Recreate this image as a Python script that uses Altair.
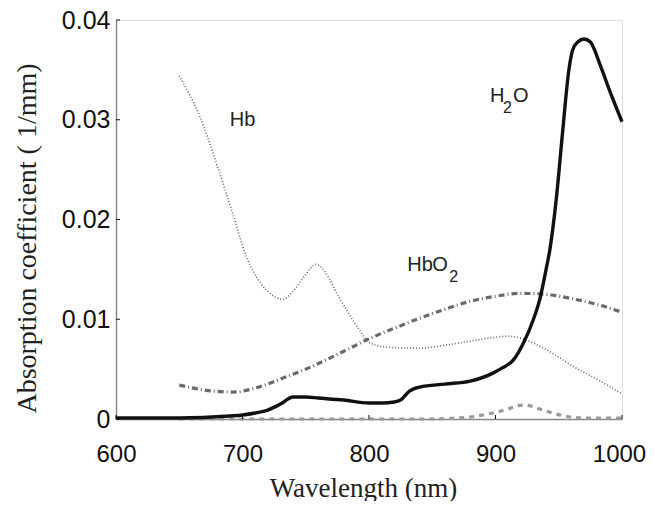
import altair as alt
import pandas as pd

# H2O (solid black)
h2o_wl = [600, 650, 690, 700, 710, 720, 730, 740, 750, 760, 780, 800, 810, 820, 825, 832, 840, 860, 880, 898, 905, 914, 922, 930, 935, 940, 943, 948, 953, 958, 961, 965, 970, 975, 983, 990, 1000]
h2o_v = [0.0001, 0.0001, 0.0003, 0.0004, 0.0006, 0.0009, 0.0015, 0.0022, 0.0022, 0.0021, 0.0019, 0.0016, 0.0016, 0.0017, 0.0019, 0.0028, 0.0032, 0.0035, 0.0038, 0.0046, 0.0051, 0.0059, 0.0076, 0.0100, 0.0120, 0.0150, 0.0170, 0.0220, 0.0287, 0.0350, 0.0370, 0.0378, 0.0381, 0.0378, 0.0354, 0.0330, 0.0298]

# Hb (dotted)
hb_wl = [650, 666, 680, 693, 703, 715, 725, 732, 740, 750, 758, 765, 775, 782, 792, 801, 815, 840, 860, 880, 900, 910, 920, 930, 945, 961, 980, 1000]
hb_v = [0.0344, 0.0304, 0.0254, 0.0203, 0.0163, 0.0135, 0.0123, 0.0120, 0.0128, 0.0145, 0.0155, 0.0148, 0.0125, 0.0110, 0.0090, 0.0076, 0.0072, 0.0071, 0.0074, 0.0078, 0.0082, 0.0083, 0.0081, 0.0076, 0.0066, 0.0053, 0.0040, 0.0025]

# HbO2 (dash-dot)
hbo2_wl = [650, 670, 693, 710, 732, 750, 769, 785, 801, 820, 840, 860, 880, 900, 919, 940, 959, 980, 1000]
hbo2_v = [0.0034, 0.0029, 0.0027, 0.0031, 0.0041, 0.0050, 0.0061, 0.0071, 0.0081, 0.0091, 0.0101, 0.0110, 0.0118, 0.0123, 0.0126, 0.0125, 0.0121, 0.0115, 0.0107]

# unlabeled dashed curve
lip_wl = [650, 700, 750, 800, 850, 870, 880, 890, 901, 910, 916, 922, 928, 935, 945, 955, 970, 985, 1000]
lip_v = [0.0, 0.0, 0.0, 0.0, 0.0, 0.0001, 0.0002, 0.0004, 0.0007, 0.0010, 0.0013, 0.0014, 0.0013, 0.0010, 0.0006, 0.0003, 0.0001, 0.0001, 0.0001]

x_ticks = [600, 700, 800, 900, 1000]
y_ticks = [0.0, 0.01, 0.02, 0.03, 0.04]

# curve labels
lab_main_wl = [690, 895.6, 913.8, 830.3, 850.0]
lab_main_v = [0.0300, 0.0324, 0.0324, 0.0154, 0.0154]
lab_main_t = ["Hb", "H", "O", "Hb", "O"]
lab_sub_wl = [905.9, 863.5]
lab_sub_v = [0.0312, 0.0142]
lab_sub_t = ["2", "2"]

xs = alt.Scale(domain=[600, 1000], nice=False)
ys = alt.Scale(domain=[0, 0.04], nice=False)

def df(wl, v):
    return pd.DataFrame({"wl": wl, "v": v})

xenc = alt.X("wl:Q", scale=xs, axis=alt.Axis(
    title="Wavelength (nm)", values=x_ticks, ticks=False, tickSize=0, grid=False,
    format="d", labelFlush=False,
    labelOffset={"condition": {"test": "datum.value == 1000", "value": -3}, "value": 0},
    labelFont="Liberation Sans", labelFontSize=24, labelColor="#111",
    labelBaseline="alphabetic", labelPadding=42,
    titleFont="Liberation Serif", titleFontSize=27,
    titleFontWeight="normal", titleColor="#222",
    titleBaseline="alphabetic", titleY=77, titleX=247,
    domainColor="#888", domainWidth=1.5))
yenc = alt.Y("v:Q", scale=ys, axis=alt.Axis(
    title="Absorption coefficient ( 1/mm)", values=y_ticks, ticks=False, tickSize=0, grid=False,
    labelFlush=False,
    labelExpr="datum.value == 0 ? '0' : format(datum.value, '.2f')",
    labelFont="Liberation Sans", labelFontSize=25, labelColor="#111",
    labelPadding=6, labelBaseline="middle",
    titleFont="Liberation Serif", titleFontSize=28,
    titleFontWeight="normal", titleColor="#222",
    titleBaseline="alphabetic", titleX=-81, titleY=218,
    domainColor="#888", domainWidth=1.5))

lip = alt.Chart(df(lip_wl, lip_v)).mark_line(
    color="#999999", strokeWidth=3.2, strokeDash=[5, 5], interpolate="monotone"
).encode(x=xenc, y=yenc)

hb = alt.Chart(df(hb_wl, hb_v)).mark_line(
    color="#666666", strokeWidth=1.6, strokeDash=[1, 2], interpolate="monotone"
).encode(x="wl:Q", y="v:Q")

hbo2 = alt.Chart(df(hbo2_wl, hbo2_v)).mark_line(
    color="#6a6a6a", strokeWidth=3.2, strokeDash=[6, 3, 1, 3], interpolate="monotone"
).encode(x="wl:Q", y="v:Q")

h2o = alt.Chart(df(h2o_wl, h2o_v)).mark_line(
    color="#111111", strokeWidth=3.4, interpolate="monotone"
).encode(x="wl:Q", y="v:Q")

# inward ticks
xt = alt.Chart(pd.DataFrame({"t": x_ticks})).mark_rule(color="#111", strokeWidth=1).encode(
    x="t:Q", y=alt.value(399), y2=alt.value(395))
yt = alt.Chart(pd.DataFrame({"t": y_ticks})).mark_rule(color="#111", strokeWidth=1).encode(
    y="t:Q", x=alt.value(0), x2=alt.value(4))

lab_main = pd.DataFrame({"wl": lab_main_wl, "v": lab_main_v, "t": lab_main_t})
lab_sub = pd.DataFrame({"wl": lab_sub_wl, "v": lab_sub_v, "t": lab_sub_t})

txt = alt.Chart(lab_main).mark_text(font="Liberation Sans", fontSize=20, color="#222", align="left",
                                    baseline="middle").encode(x="wl:Q", y="v:Q", text="t:N")
sub = alt.Chart(lab_sub).mark_text(font="Liberation Sans", fontSize=16, color="#222", align="left",
                                   baseline="middle").encode(x="wl:Q", y="v:Q", text="t:N")

chart = alt.layer(lip, hb, hbo2, h2o, xt, yt, txt, sub).properties(
    width=506, height=399,
    autosize=alt.AutoSizeParams(type="none"),
    padding={"left": 108, "top": 12, "right": 24, "bottom": 82},
).configure_view(stroke=None).configure(background="white")

chart.save("out.html", embed_options={"renderer": "svg", "actions": False})
